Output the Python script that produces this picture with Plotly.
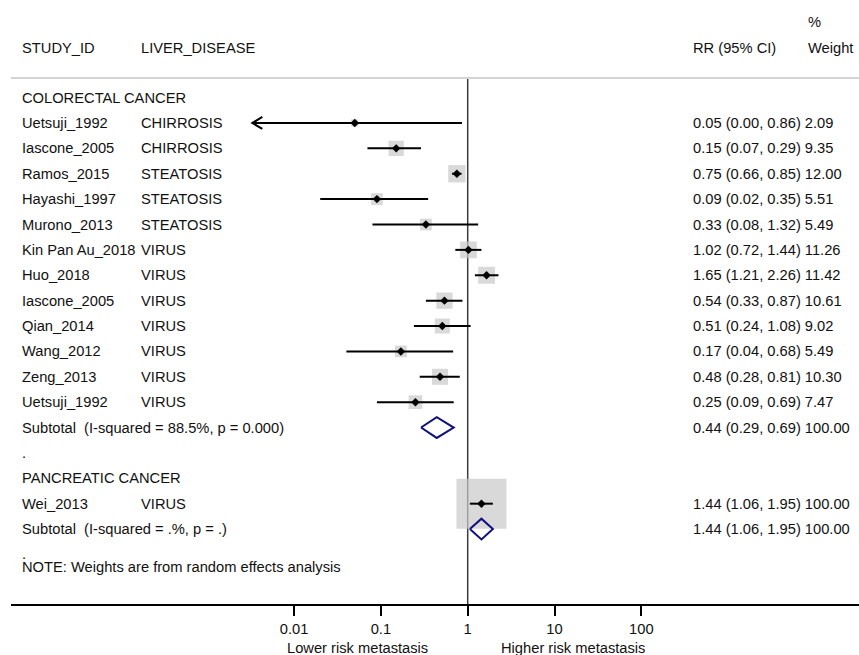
import math
import plotly.graph_objects as go

# ---- study-level estimates (risk ratio with 95% CI and random-effects weight) ----
studies = ["Uetsuji_1992", "Iascone_2005", "Ramos_2015", "Hayashi_1997", "Murono_2013",
           "Kin Pan Au_2018", "Huo_2018", "Iascone_2005", "Qian_2014", "Wang_2012",
           "Zeng_2013", "Uetsuji_1992", "Wei_2013"]
diseases = ["CHIRROSIS", "CHIRROSIS", "STEATOSIS", "STEATOSIS", "STEATOSIS",
            "VIRUS", "VIRUS", "VIRUS", "VIRUS", "VIRUS", "VIRUS", "VIRUS", "VIRUS"]
rr = [0.05, 0.15, 0.75, 0.09, 0.33, 1.02, 1.65, 0.54, 0.51, 0.17, 0.48, 0.25, 1.44]
ci_lo = [0.00, 0.07, 0.66, 0.02, 0.08, 0.72, 1.21, 0.33, 0.24, 0.04, 0.28, 0.09, 1.06]
ci_hi = [0.86, 0.29, 0.85, 0.35, 1.32, 1.44, 2.26, 0.87, 1.08, 0.68, 0.81, 0.69, 1.95]
weights = [2.09, 9.35, 12.00, 5.51, 5.49, 11.26, 11.42, 10.61, 9.02, 5.49, 10.30, 7.47, 100.00]
study_rows = [1, 2, 3, 4, 5, 6, 7, 8, 9, 10, 11, 12, 16]

# ---- pooled subgroup estimates ----
sub_labels = ["Subtotal  (I-squared = 88.5%, p = 0.000)", "Subtotal  (I-squared = .%, p = .)"]
sub_rr = [0.44, 1.44]
sub_lo = [0.29, 1.06]
sub_hi = [0.69, 1.95]
sub_wt = [100.00, 100.00]
sub_rows = [13, 17]

# ---- subgroup headings / spacer rows ----
group_labels = ["COLORECTAL CANCER", "PANCREATIC CANCER"]
group_rows = [0, 15]
spacer_rows = [14, 18]

# ---- axis ----
tick_vals = [0.01, 0.1, 1, 10, 100]
tick_text = ["0.01", "0.1", "1", "10", "100"]
ci_floor = 0.0033          # lower CIs below this are truncated with an arrow
note_text = "NOTE: Weights are from random effects analysis"

# ---- geometry ----
W, H = 859, 655
ML, MR, MT, MB = 11, 0, 78, 51
PW, PH = W - ML - MR, H - MT - MB
X_ONE, DECADE = 467.7, 86.8           # pixel of RR=1, pixels per decade
x_range = [(ML - X_ONE) / DECADE, (W - MR - X_ONE) / DECADE]
ROW0, ROWH = 97.6, 25.38              # pixel of row 0, pixels per row
y_range = [(H - MB - ROW0) / ROWH, (MT - ROW0) / ROWH]

FONT = "Liberation Sans, Arial, sans-serif"
FS = 14.7
TXT = "#111111"
BOX_GREY = "#c9c9c9"
NAVY = "#10107e"


def px_x(px):
    return (px - ML) / PW


def px_y(py):
    return (H - MB - py) / PH


fig = go.Figure()

# weight boxes (area proportional to weight)
fig.add_trace(go.Scatter(
    x=rr, y=study_rows, mode="markers",
    marker=dict(symbol="square", size=[5 * math.sqrt(w) for w in weights],
                color=BOX_GREY, line=dict(width=0)),
    hoverinfo="skip", showlegend=False))

# confidence interval lines
cx, cy = [], []
for lo, hi, r in zip(ci_lo, ci_hi, study_rows):
    cx += [max(lo, ci_floor), hi, None]
    cy += [r, r, None]
fig.add_trace(go.Scatter(x=cx, y=cy, mode="lines", line=dict(color="black", width=2),
                         hoverinfo="skip", showlegend=False))

# point estimates
fig.add_trace(go.Scatter(
    x=rr, y=study_rows, mode="markers",
    marker=dict(symbol="diamond", size=6.5, color="black", line=dict(width=0)),
    hoverinfo="skip", showlegend=False))

# pooled diamonds
half_h = 0.41
dx, dy = [], []
for est, lo, hi, r in zip(sub_rr, sub_lo, sub_hi, sub_rows):
    dx += [lo, est, hi, est, lo, None]
    dy += [r, r - half_h, r, r + half_h, r, None]
fig.add_trace(go.Scatter(x=dx, y=dy, mode="lines", line=dict(color=NAVY, width=2),
                         hoverinfo="skip", showlegend=False))

shapes = [
    # line of no effect
    dict(type="line", xref="x", yref="paper", x0=1, x1=1, y0=0, y1=1,
         line=dict(color="#3c3c3c", width=1.5), layer="below"),
    # header rule
    dict(type="line", xref="paper", yref="paper", x0=0, x1=1, y0=1, y1=1,
         line=dict(color="#d4d4d4", width=2), layer="below"),
]
# truncation arrows
for lo, r in zip(ci_lo, study_rows):
    if lo < ci_floor:
        shapes.append(dict(type="path", xref="x", yref="y",
                           xsizemode="pixel", ysizemode="pixel",
                           xanchor=ci_floor, yanchor=r,
                           path="M 10,6 L 0,0 L 10,-6",
                           line=dict(color="black", width=2)))

ann = []


def txt(x, y, s, yref="y", xanchor="left"):
    ann.append(dict(x=x, y=y, xref="paper", yref=yref, text=s, showarrow=False,
                    xanchor=xanchor, yanchor="middle",
                    font=dict(family=FONT, size=FS, color=TXT)))


# header
txt(px_x(20), px_y(47.7), "STUDY_ID", "paper")
txt(px_x(139), px_y(47.7), "LIVER_DISEASE", "paper")
txt(px_x(691), px_y(47.7), "RR (95% CI)", "paper")
txt(px_x(806), px_y(47.7), "Weight", "paper")
txt(px_x(806), px_y(22), "%", "paper")

for g, r in zip(group_labels, group_rows):
    txt(px_x(20), r, g)
for r in spacer_rows:
    txt(px_x(20), r, ".")
for s, d, e, lo, hi, w, r in zip(studies, diseases, rr, ci_lo, ci_hi, weights, study_rows):
    txt(px_x(20), r, s)
    txt(px_x(139), r, d)
    txt(px_x(691), r, f"{e:.2f} ({lo:.2f}, {hi:.2f}) {w:.2f}")
for s, e, lo, hi, w, r in zip(sub_labels, sub_rr, sub_lo, sub_hi, sub_wt, sub_rows):
    txt(px_x(20), r, s)
    txt(px_x(691), r, f"{e:.2f} ({lo:.2f}, {hi:.2f}) {w:.2f}")

txt(px_x(20), 18.5, note_text)

# direction labels under the axis
txt(px_x(357), px_y(648), "Lower risk metastasis", "paper", "center")
txt(px_x(573), px_y(648), "Higher risk metastasis", "paper", "center")

fig.update_layout(
    width=W, height=H,
    margin=dict(l=ML, r=MR, t=MT, b=MB, pad=0),
    paper_bgcolor="white", plot_bgcolor="white",
    showlegend=False,
    font=dict(family=FONT, size=FS, color=TXT),
    xaxis=dict(type="log", range=x_range, tickvals=tick_vals, ticktext=tick_text,
               showgrid=False, zeroline=False, showline=True, linecolor="black",
               linewidth=2, ticks="outside", ticklen=10, tickwidth=1.5,
               tickcolor="black", tickfont=dict(family=FONT, size=FS, color=TXT),
               fixedrange=True),
    yaxis=dict(range=y_range, visible=False, fixedrange=True),
    shapes=shapes,
    annotations=ann,
)

fig.write_html("out.html")
